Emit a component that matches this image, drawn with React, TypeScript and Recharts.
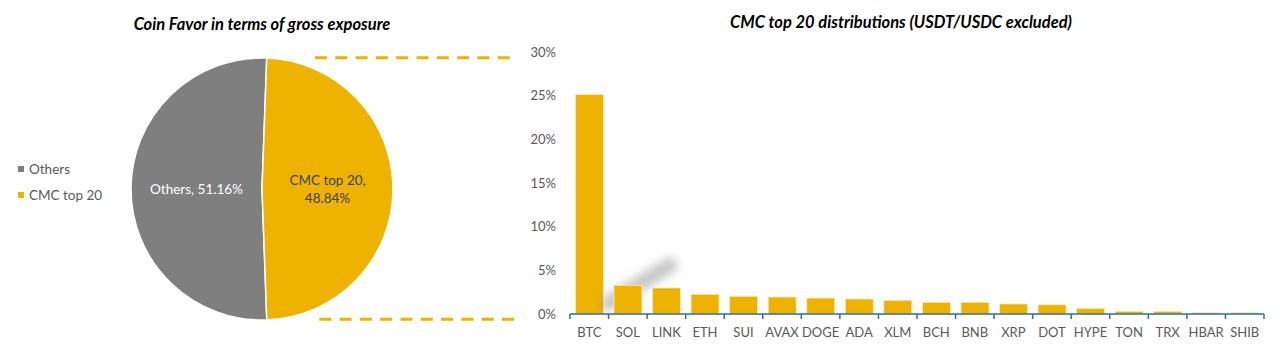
import React from "react";
import { PieChart, Pie, Cell, BarChart, Bar, XAxis, YAxis, Legend } from "recharts";

const pieNames = ["Others", "CMC top 20"];
const pieValues = [51.16, 48.84];
const pieColors = ["#7F7F7F", "#EEB300"];

const coins = ["BTC", "SOL", "LINK", "ETH", "SUI", "AVAX", "DOGE", "ADA", "XLM", "BCH", "BNB", "XRP", "DOT", "HYPE", "TON", "TRX", "HBAR", "SHIB"];
const shares = [0.2512, 0.0329, 0.0298, 0.0226, 0.0203, 0.0195, 0.0183, 0.0172, 0.0157, 0.0134, 0.0134, 0.0115, 0.0107, 0.0065, 0.0031, 0.0031, 0.0016, 0.0016];
const yTicks = [0, 0.05, 0.1, 0.15, 0.2, 0.25, 0.3];

const pieData = pieNames.map((name, i) => ({ name, value: pieValues[i] }));
const barData = coins.map((coin, i) => ({ coin, share: shares[i] }));

const FONT = "Lato, 'Open Sans', sans-serif";
const GOLD = "#EEB300";
const AXIS = "#2F6E97";
const TXT = "#595959";
const RAD = Math.PI / 180;

const renderPieLabel = (p: any) => {
  const { cx, cy, midAngle, outerRadius, index } = p;
  const r = outerRadius * 0.5;
  const x = cx + r * Math.cos(-midAngle * RAD);
  const y = cy + r * Math.sin(-midAngle * RAD);
  const pct = pieValues[index].toFixed(2) + "%";
  if (index === 0) {
    return (
      <text x={x} y={y} textAnchor="middle" dominantBaseline="central" fill="#FFFFFF" fontSize={13.5} fontFamily={FONT}>
        {pieNames[index] + ", " + pct}
      </text>
    );
  }
  return (
    <text x={x} y={y} textAnchor="middle" fill="#404040" fontSize={13.5} fontFamily={FONT}>
      <tspan x={x} dy={-4}>{pieNames[index] + ","}</tspan>
      <tspan x={x} dy={18}>{pct}</tspan>
    </text>
  );
};

const PieLegend = () => (
  <div style={{ fontFamily: FONT, fontSize: 13.5, color: TXT }}>
    {pieNames.map((n, i) => (
      <div key={n} style={{ display: "flex", alignItems: "center", height: 26 }}>
        <span style={{ display: "inline-block", width: 6, height: 6, background: pieColors[i], marginRight: 5 }} />
        <span>{n}</span>
      </div>
    ))}
  </div>
);

const XTick = (props: any) => {
  const { x, y, payload, index, visibleTicksCount } = props;
  const half = payload && typeof payload.offset === "number" && payload.offset > 0 ? payload.offset : 19.28;
  const last = index === (visibleTicksCount ?? coins.length) - 1;
  return (
    <g>
      <line x1={x - half} y1={y} x2={x - half} y2={y + 5} stroke={AXIS} strokeWidth={1.5} />
      {last && <line x1={x + half} y1={y} x2={x + half} y2={y + 5} stroke={AXIS} strokeWidth={1.5} />}
      <text x={x} y={y + 23} textAnchor="middle" fill={TXT} fontSize={13} fontFamily={FONT}>
        {payload.value}
      </text>
    </g>
  );
};

const BarShape = (props: any) => {
  const { x, y, width, height, index } = props;
  return (
    <g>
      {index === 1 && (
        <line
          x1={x - 6}
          y1={y + 18}
          x2={x + 56}
          y2={y - 20}
          stroke="#8f8f8f"
          strokeOpacity={0.5}
          strokeWidth={15}
          strokeLinecap="round"
          filter="url(#shadowBlur)"
        />
      )}
      <rect x={x} y={y} width={width} height={height} fill={GOLD} stroke="#FBEFC4" strokeWidth={0.8} />
    </g>
  );
};

export default function App() {
  return (
    <div style={{ position: "absolute", left: 0, top: 0, width: 1280, height: 350, background: "#FFFFFF", overflow: "hidden" }}>
      <svg width={0} height={0} style={{ position: "absolute" }}>
        <defs>
          <filter id="shadowBlur" x="-50%" y="-50%" width="200%" height="200%">
            <feGaussianBlur stdDeviation={5} />
          </filter>
        </defs>
      </svg>
      <div style={{ position: "absolute", left: 0, top: 0 }}>
        <PieChart width={520} height={350} margin={{ top: 0, right: 0, bottom: 0, left: 0 }}>
          <Pie
            data={pieData}
            dataKey="value"
            nameKey="name"
            cx={262}
            cy={189}
            outerRadius={131}
            startAngle={-87.9}
            endAngle={-447.9}
            stroke="#FFFFFF"
            strokeWidth={1.5}
            label={renderPieLabel}
            labelLine={false}
            isAnimationActive={false}
          >
            {pieData.map((d, i) => (
              <Cell key={d.name} fill={pieColors[i]} />
            ))}
          </Pie>
          <Legend
            layout="vertical"
            content={<PieLegend />}
            wrapperStyle={{ position: "absolute", left: 18, top: 156, width: 120 }}
          />
        </PieChart>
      </div>
      <div style={{ position: "absolute", left: 520, top: 0 }}>
        <BarChart width={760} height={350} data={barData} margin={{ top: 52, right: 16, bottom: 6, left: 0 }} barCategoryGap="14%">
          <XAxis
            dataKey="coin"
            axisLine={{ stroke: AXIS, strokeWidth: 1.5 }}
            tickLine={false}
            tickSize={0}
            tickMargin={0}
            height={30}
            interval={0}
            tick={<XTick />}
          />
          <YAxis
            width={50}
            domain={[0, 0.3]}
            ticks={yTicks}
            axisLine={false}
            tickLine={false}
            tickSize={0}
            tickMargin={14}
            tickFormatter={(v: number) => Math.round(v * 100) + "%"}
            tick={{ fill: TXT, fontSize: 13, fontFamily: FONT }}
          />
          <Bar dataKey="share" shape={<BarShape />} isAnimationActive={false} />
        </BarChart>
      </div>
      <svg width={1280} height={350} style={{ position: "absolute", left: 0, top: 0, pointerEvents: "none" }}>
        <text x={262} y={30} textAnchor="middle" fontFamily={FONT} fontSize={16.5} fontWeight={700} fontStyle="italic" fill="#000000">
          Coin Favor in terms of gross exposure
        </text>
        <text x={901} y={28} textAnchor="middle" fontFamily={FONT} fontSize={16.5} fontWeight={700} fontStyle="italic" fill="#000000">
          CMC top 20 distributions (USDT/USDC excluded)
        </text>
        <line x1={315} y1={57.7} x2={510} y2={57.7} stroke={GOLD} strokeWidth={3} strokeDasharray="12 8.3" />
        <line x1={319.3} y1={319.3} x2={514} y2={319.3} stroke={GOLD} strokeWidth={3} strokeDasharray="12 8.3" />
      </svg>
    </div>
  );
}
